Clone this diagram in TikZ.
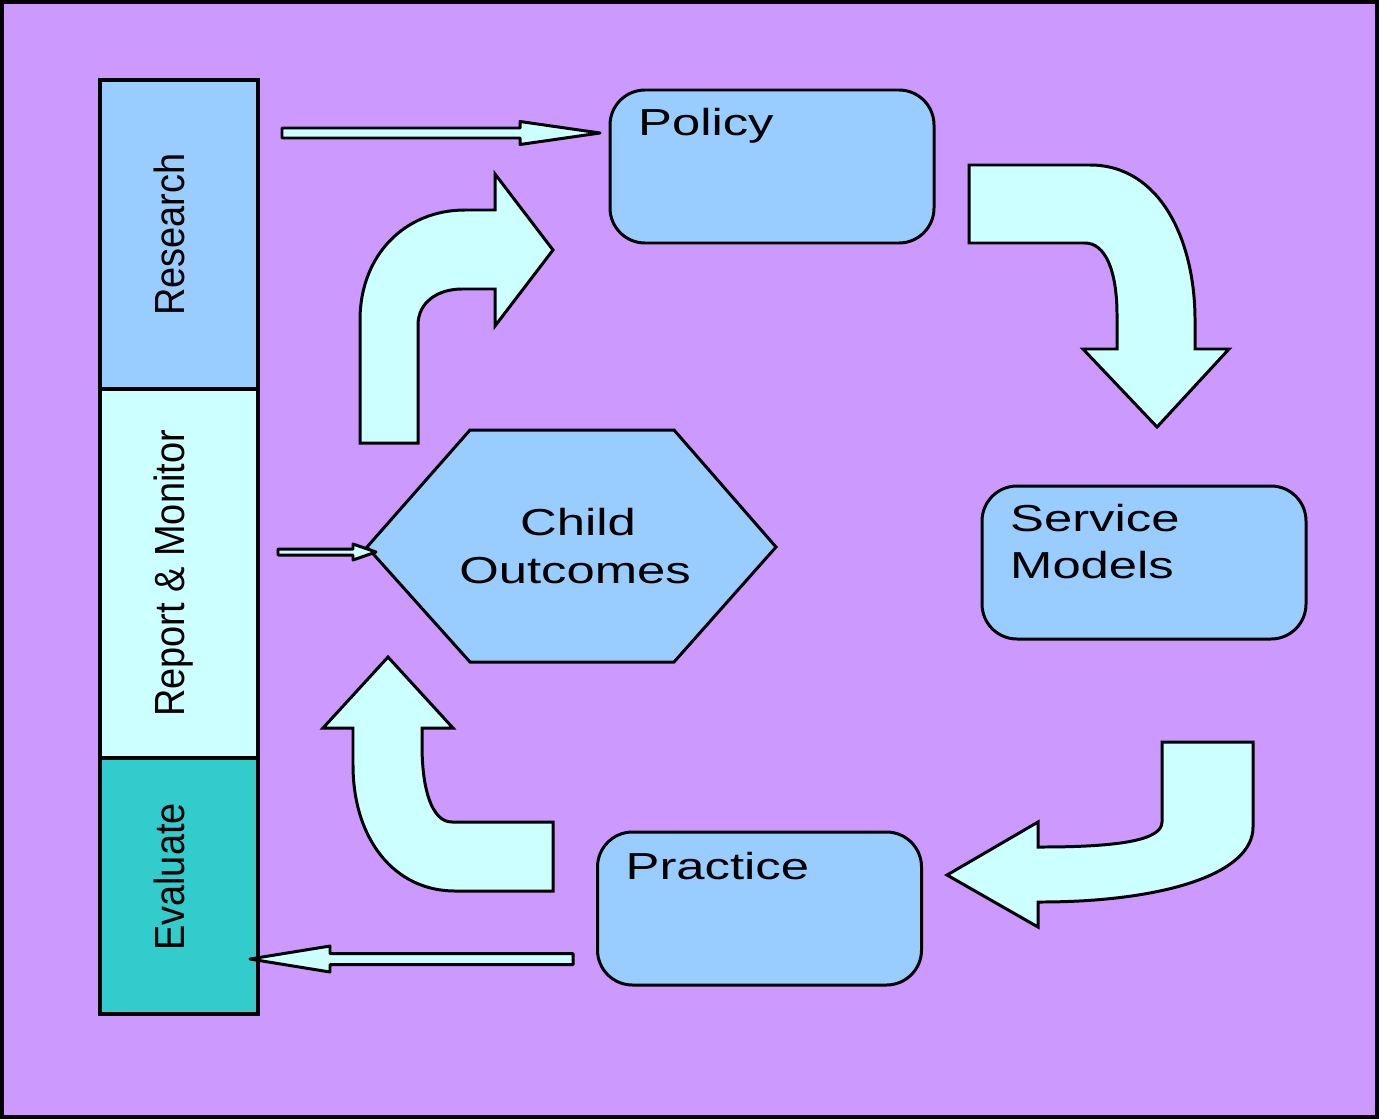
\documentclass[tikz,border=0pt]{standalone}
\usepackage{graphicx}
\usepackage{fontspec}
\setmainfont{Liberation Sans}
\newfontfamily\widefont[FakeStretch=1.35]{Liberation Sans}
\newfontfamily\narrowfont[FakeStretch=0.9]{Liberation Sans}
\usetikzlibrary{positioning, calc}

\definecolor{backlilac}{HTML}{CC99FF}
\definecolor{boxblue}{HTML}{99CCFF}
\definecolor{pale}{HTML}{CCFFFF}
\definecolor{tealish}{HTML}{33CCCC}

\tikzset{
  panel/.style={
    draw, line width=0.85pt, rounded corners=3.5mm,
    minimum width=32.4mm, minimum height=15.3mm,
    fill=boxblue
  },
  stage/.style={
    draw, line width=0.9pt, inner sep=0pt, outer sep=0pt,
    minimum width=15.8mm,
    font=\narrowfont\fontsize{12}{14}\selectfont
  },
  bent/.style={draw, line width=0.85pt, fill=pale, line join=miter},
  thinarrow/.style={draw, line width=0.85pt, fill=pale, line join=round},
  boxlabel/.style={
    anchor=base west, inner sep=0pt,
    font=\widefont\fontsize{10.7}{13.7}\selectfont
  },
  hexlabel/.style={
    anchor=base, inner sep=0pt,
    font=\widefont\fontsize{10.7}{13.7}\selectfont
  },
}

% straight hollow arrow: tail, tip, head offset, half shaft, half head
\newcommand{\hollowarrow}[5]{%
  \draw[thinarrow] ($(#1)+(0,#4)$) -- ($(#2)+(#3,#4)$) -- ($(#2)+(#3,#5)$)
    -- (#2) -- ($(#2)+(#3,-#5)$) -- ($(#2)+(#3,-#4)$) -- ($(#1)+(0,-#4)$) -- cycle;}
\newcommand{\sidestrut}{\rule[-5.6pt]{0pt}{14.6pt}}

\begin{document}
\begin{tikzpicture}[x=0.1mm, y=-0.1mm, node distance=0pt]
  \useasboundingbox (0,0) rectangle (1379,1119);
  \draw[line width=1.2pt, fill=backlilac] (2,2) rectangle (1377,1117);

  % left column
  \node[stage, fill=boxblue, minimum height=30.9mm] (research) at (179,234.5)
    {\rotatebox{90}{\sidestrut Research}};
  \node[stage, fill=pale, minimum height=36.9mm, below=0pt of research] (report)
    {\rotatebox{90}{\sidestrut Report \& Monitor}};
  \node[stage, fill=tealish, minimum height=25.6mm, below=0pt of report] (evaluate)
    {\rotatebox{90}{\sidestrut\hspace{1.8mm}Evaluate}};

  % cycle boxes
  \node[panel] (policy) at (772,166.5) {};
  \node[panel] (service) at (1144,562.5) {};
  \node[panel] (practice) at (759.5,908.5) {};

  \node[boxlabel] (policytxt) at ($(policy.north west)+(29,47)$) {Policy};
  \node[boxlabel] (servicetxt) at ($(service.north west)+(29,47)$) {Service};
  \node[boxlabel] (modelstxt) at ($(service.north west)+(29,94)$) {Models};
  \node[boxlabel] (practicetxt) at ($(practice.north west)+(29,49)$) {Practice};

  % outcomes hexagon
  \draw[line width=0.85pt, fill=boxblue] (367,547) -- (470,430) -- (674,430)
    -- (776,547) -- (674,662) -- (470,662) -- cycle;
  \coordinate (hexW) at (376,552);
  \node[hexlabel] (childtxt) at (578,535) {Child};
  \node[hexlabel] (outcometxt) at (575,583) {Outcomes};

  % straight connectors
  \coordinate (polIn) at (600,133);
  \coordinate (resX) at ($(research.east)+(24,0)$);
  \coordinate (resOut) at (resX |- polIn);
  \hollowarrow{resOut}{polIn}{-80}{5}{11.5}
  \coordinate (repX) at ($(report.east)+(20,0)$);
  \coordinate (repOut) at (repX |- hexW);
  \hollowarrow{repOut}{hexW}{-23}{3}{8}
  \coordinate (evalIn) at (250,959);
  \coordinate (pracX) at ($(practice.west)+(-23,0)$);
  \coordinate (pracOut) at (pracX |- evalIn);
  \hollowarrow{pracOut}{evalIn}{80}{5.5}{13}

  % bent arrows round the cycle
  \draw[bent] (360,443) -- (360,320) .. controls (360,255) and (405,210) .. (465,210)
    -- (495,210) -- (495,174) -- (553,250) -- (495,326) -- (495,289) -- (462,289)
    .. controls (438,289) and (418,302) .. (418,325) -- (418,443) -- cycle;
  \draw[bent] (969,165) -- (1090,165) .. controls (1160,165) and (1195,240) .. (1195,320)
    -- (1195,349) -- (1229,349) -- (1157,427) -- (1083,349) -- (1117,349) -- (1117,315)
    .. controls (1117,270) and (1105,243) .. (1085,243) -- (969,243) -- cycle;
  \draw[bent] (1253,742) -- (1253,827) .. controls (1253,875) and (1160,902) .. (1040,902)
    -- (1038,902) -- (1038,927) -- (947,875) -- (1038,822) -- (1038,847) -- (1040,847)
    .. controls (1120,847) and (1162,840) .. (1162,822) -- (1162,742) -- cycle;
  \draw[bent] (553,891) -- (553,822) -- (452,822) .. controls (432,822) and (422,790) .. (422,745)
    -- (422,728) -- (453,728) -- (388,657) -- (323,728) -- (353,728) -- (353,765)
    .. controls (353,840) and (395,891) .. (455,891) -- cycle;
\end{tikzpicture}
\end{document}
